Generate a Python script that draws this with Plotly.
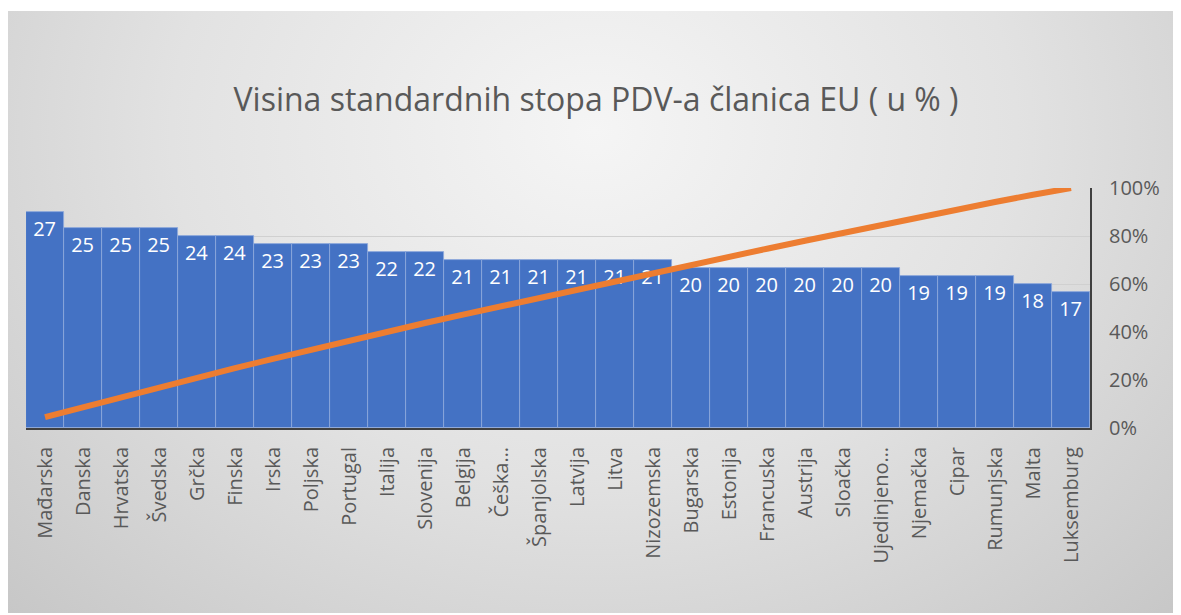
import base64
import plotly.graph_objects as go

countries = ["Mađarska", "Danska", "Hrvatska", "Švedska", "Grčka", "Finska", "Irska",
             "Poljska", "Portugal", "Italija", "Slovenija", "Belgija", "Češka…",
             "Španjolska", "Latvija", "Litva", "Nizozemska", "Bugarska", "Estonija",
             "Francuska", "Austrija", "Sloačka", "Ujedinjeno…", "Njemačka", "Cipar",
             "Rumunjska", "Malta", "Luksemburg"]
rates = [27, 25, 25, 25, 24, 24, 23, 23, 23, 22, 22, 21, 21, 21, 21, 21, 21,
         20, 20, 20, 20, 20, 20, 19, 19, 19, 18, 17]
title_text = "Visina standardnih stopa PDV-a članica EU ( u % )"

total = sum(rates)
cum = []
s = 0
for r in rates:
    s += r
    cum.append(s / total)

OFF = 8  # page body margin
W, H = 1181 - OFF, 615 - OFF
L, R, T, B = 26 - OFF, 1090 - OFF, 188 - OFF, 428 - OFF
pw, ph = R - L, B - T
BG_X0, BG_Y0, BG_Y1 = 7 - OFF, 11 - OFF, 613 - OFF
bgw, bgh = W - BG_X0, BG_Y1 - BG_Y0

svg = f'''<svg xmlns="http://www.w3.org/2000/svg" width="{bgw}" height="{bgh}" viewBox="0 0 {bgw} {bgh}" preserveAspectRatio="none">
<defs><radialGradient id="g" cx="0.5" cy="0.2" r="0.72" gradientTransform="translate(0.5,0.2) scale(1,1.6) translate(-0.5,-0.2)">
<stop offset="0" stop-color="#f5f5f5"/><stop offset="0.5" stop-color="#e2e2e2"/><stop offset="1" stop-color="#c6c6c6"/></radialGradient></defs>
<rect width="{bgw}" height="{bgh}" fill="url(#g)"/></svg>'''
src = "data:image/svg+xml;base64," + base64.b64encode(svg.encode()).decode()

font = "Open Sans"
fig = go.Figure()
fig.add_trace(go.Bar(
    x=countries, y=rates, text=[str(v) for v in rates],
    textposition="inside", insidetextanchor="end",
    textfont=dict(family=font, size=20, color="white"),
    marker=dict(color="#4472C4", line=dict(color="#8FAADC", width=0.8)),
    width=1.0, cliponaxis=False, hoverinfo="skip",
))
fig.add_trace(go.Scatter(
    x=countries, y=cum, yaxis="y2", mode="lines",
    line=dict(color="#ED7D31", width=6), hoverinfo="skip",
))

fig.update_layout(
    width=W, height=H,
    margin=dict(l=L, r=W - R, t=T, b=H - B, pad=0),
    paper_bgcolor="white", plot_bgcolor="rgba(0,0,0,0)",
    showlegend=False, bargap=0,
    title=dict(text=title_text, x=(596 - OFF) / W, xref="container", xanchor="center",
               y=1 - (100 - OFF) / H, yanchor="middle",
               font=dict(family=font, size=32, color="#595959")),
    xaxis=dict(showline=True, linecolor="#404040", linewidth=2, ticks="",
               tickangle=-90, tickfont=dict(family=font, size=20, color="#595959"),
               ticklabelstandoff=9, automargin=False, range=[-0.5, len(countries) - 0.5]),
    yaxis=dict(range=[0, 30], dtick=6, showgrid=True, gridcolor="#D0D0D0", gridwidth=1,
               showticklabels=False, zeroline=False, automargin=False),
    yaxis2=dict(range=[0, 1], dtick=0.2, tickformat=".0%", overlaying="y", side="right",
                showgrid=False, showline=True, linecolor="#404040", linewidth=2,
                zeroline=False, ticks="", ticklabelstandoff=13,
                tickfont=dict(family=font, size=20, color="#595959"), automargin=False),
    images=[dict(source=src, xref="paper", yref="paper",
                 x=(BG_X0 - L) / pw, y=(B - BG_Y0) / ph,
                 sizex=bgw / pw, sizey=bgh / ph,
                 xanchor="left", yanchor="top", sizing="stretch", layer="below")],
)
fig.write_html("out.html")
